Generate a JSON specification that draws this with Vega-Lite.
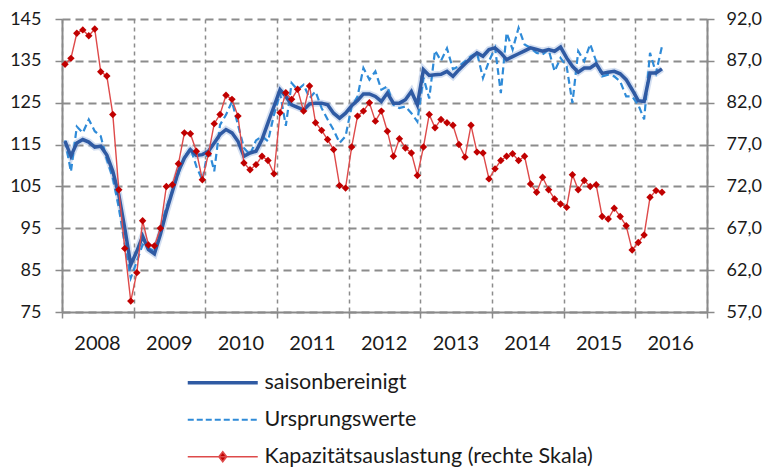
{
  "$schema": "https://vega.github.io/schema/vega-lite/v6.json",
  "width": 645,
  "height": 293,
  "autosize": {"type": "none"},
  "padding": {"left": 62, "top": 19, "right": 66, "bottom": 155},
  "background": "white",
  "config": {
    "view": {"stroke": null},
    "font": "Lato",
    "axis": {
      "labelFont": "Lato",
      "labelFontSize": 18,
      "labelColor": "#1a1a1a",
      "domainColor": "#8a8a8a",
      "domainWidth": 2,
      "tickColor": "#8a8a8a",
      "tickWidth": 1.5,
      "gridColor": "#8c8c8c",
      "title": null
    }
  },
  "data": {
    "values": [
      {"m": "2008-01", "sa": 115.8, "u": 116.0, "k": 86.6},
      {"m": "2008-02", "sa": 112.2, "u": 108.5, "k": 87.3},
      {"m": "2008-03", "sa": 115.4, "u": 119.3, "k": 90.3},
      {"m": "2008-04", "sa": 116.2, "u": 117.8, "k": 90.7},
      {"m": "2008-05", "sa": 115.6, "u": 121.0, "k": 90.0},
      {"m": "2008-06", "sa": 114.4, "u": 118.2, "k": 90.8},
      {"m": "2008-07", "sa": 114.6, "u": 117.0, "k": 85.7},
      {"m": "2008-08", "sa": 112.5, "u": 111.4, "k": 85.2},
      {"m": "2008-09", "sa": 108.6, "u": 107.0, "k": 80.6},
      {"m": "2008-10", "sa": 103.0, "u": 100.0, "k": 71.6},
      {"m": "2008-11", "sa": 95.0, "u": 91.1, "k": 64.6},
      {"m": "2008-12", "sa": 86.3, "u": 83.1, "k": 58.3},
      {"m": "2009-01", "sa": 89.5, "u": 87.1, "k": 61.7},
      {"m": "2009-02", "sa": 93.1, "u": 91.1, "k": 67.9},
      {"m": "2009-03", "sa": 89.9, "u": 90.3, "k": 65.0},
      {"m": "2009-04", "sa": 88.9, "u": 89.5, "k": 64.9},
      {"m": "2009-05", "sa": 93.5, "u": 95.0, "k": 67.0},
      {"m": "2009-06", "sa": 99.0, "u": 100.0, "k": 72.0},
      {"m": "2009-07", "sa": 103.8, "u": 104.0, "k": 72.2},
      {"m": "2009-08", "sa": 108.6, "u": 108.0, "k": 74.7},
      {"m": "2009-09", "sa": 111.8, "u": 112.0, "k": 78.4},
      {"m": "2009-10", "sa": 113.8, "u": 114.2, "k": 78.3},
      {"m": "2009-11", "sa": 112.4, "u": 109.8, "k": 76.2},
      {"m": "2009-12", "sa": 112.6, "u": 106.5, "k": 72.8},
      {"m": "2010-01", "sa": 113.4, "u": 114.2, "k": 75.9},
      {"m": "2010-02", "sa": 115.4, "u": 108.6, "k": 79.5},
      {"m": "2010-03", "sa": 117.4, "u": 119.7, "k": 80.6},
      {"m": "2010-04", "sa": 118.6, "u": 122.1, "k": 82.9},
      {"m": "2010-05", "sa": 117.8, "u": 125.3, "k": 82.4},
      {"m": "2010-06", "sa": 115.8, "u": 119.7, "k": 80.4},
      {"m": "2010-07", "sa": 112.2, "u": 114.2, "k": 74.8},
      {"m": "2010-08", "sa": 113.0, "u": 112.6, "k": 74.0},
      {"m": "2010-09", "sa": 113.4, "u": 116.0, "k": 74.6},
      {"m": "2010-10", "sa": 116.2, "u": 117.0, "k": 75.6},
      {"m": "2010-11", "sa": 120.2, "u": 115.8, "k": 75.1},
      {"m": "2010-12", "sa": 124.1, "u": 122.1, "k": 73.5},
      {"m": "2011-01", "sa": 128.1, "u": 127.3, "k": 80.8},
      {"m": "2011-02", "sa": 126.5, "u": 119.5, "k": 83.2},
      {"m": "2011-03", "sa": 124.5, "u": 129.7, "k": 82.4},
      {"m": "2011-04", "sa": 123.9, "u": 128.1, "k": 83.6},
      {"m": "2011-05", "sa": 123.3, "u": 129.3, "k": 81.0},
      {"m": "2011-06", "sa": 124.7, "u": 126.1, "k": 84.0},
      {"m": "2011-07", "sa": 124.9, "u": 127.7, "k": 79.6},
      {"m": "2011-08", "sa": 124.9, "u": 123.7, "k": 78.7},
      {"m": "2011-09", "sa": 124.5, "u": 121.0, "k": 77.6},
      {"m": "2011-10", "sa": 122.5, "u": 118.5, "k": 76.4},
      {"m": "2011-11", "sa": 121.3, "u": 115.4, "k": 72.1},
      {"m": "2011-12", "sa": 122.5, "u": 117.0, "k": 71.8},
      {"m": "2012-01", "sa": 124.3, "u": 124.1, "k": 76.7},
      {"m": "2012-02", "sa": 125.5, "u": 126.5, "k": 80.4},
      {"m": "2012-03", "sa": 127.1, "u": 133.3, "k": 81.0},
      {"m": "2012-04", "sa": 127.1, "u": 130.5, "k": 82.0},
      {"m": "2012-05", "sa": 126.5, "u": 132.5, "k": 79.8},
      {"m": "2012-06", "sa": 125.3, "u": 128.1, "k": 81.0},
      {"m": "2012-07", "sa": 127.3, "u": 128.9, "k": 78.6},
      {"m": "2012-08", "sa": 124.9, "u": 124.5, "k": 75.6},
      {"m": "2012-09", "sa": 124.9, "u": 123.7, "k": 77.7},
      {"m": "2012-10", "sa": 125.7, "u": 124.1, "k": 76.6},
      {"m": "2012-11", "sa": 127.7, "u": 122.5, "k": 76.0},
      {"m": "2012-12", "sa": 124.5, "u": 120.5, "k": 73.3},
      {"m": "2013-01", "sa": 132.9, "u": 131.0, "k": 76.7},
      {"m": "2013-02", "sa": 131.5, "u": 126.0, "k": 80.6},
      {"m": "2013-03", "sa": 131.7, "u": 137.5, "k": 79.0},
      {"m": "2013-04", "sa": 131.8, "u": 135.0, "k": 80.0},
      {"m": "2013-05", "sa": 132.5, "u": 138.0, "k": 79.6},
      {"m": "2013-06", "sa": 131.3, "u": 133.0, "k": 79.3},
      {"m": "2013-07", "sa": 132.9, "u": 133.7, "k": 77.0},
      {"m": "2013-08", "sa": 134.3, "u": 134.9, "k": 75.5},
      {"m": "2013-09", "sa": 135.7, "u": 136.1, "k": 79.3},
      {"m": "2013-10", "sa": 136.9, "u": 136.9, "k": 76.1},
      {"m": "2013-11", "sa": 136.1, "u": 130.9, "k": 76.0},
      {"m": "2013-12", "sa": 137.7, "u": 134.9, "k": 72.9},
      {"m": "2014-01", "sa": 138.1, "u": 138.1, "k": 74.1},
      {"m": "2014-02", "sa": 136.9, "u": 127.3, "k": 75.1},
      {"m": "2014-03", "sa": 135.3, "u": 141.7, "k": 75.6},
      {"m": "2014-04", "sa": 136.0, "u": 137.7, "k": 75.9},
      {"m": "2014-05", "sa": 136.7, "u": 142.9, "k": 75.1},
      {"m": "2014-06", "sa": 137.4, "u": 138.9, "k": 75.6},
      {"m": "2014-07", "sa": 138.1, "u": 138.1, "k": 72.3},
      {"m": "2014-08", "sa": 137.7, "u": 136.9, "k": 71.3},
      {"m": "2014-09", "sa": 137.3, "u": 136.5, "k": 73.1},
      {"m": "2014-10", "sa": 137.7, "u": 137.7, "k": 71.6},
      {"m": "2014-11", "sa": 137.3, "u": 132.5, "k": 70.5},
      {"m": "2014-12", "sa": 138.3, "u": 135.7, "k": 69.9},
      {"m": "2015-01", "sa": 135.7, "u": 133.7, "k": 69.5},
      {"m": "2015-02", "sa": 133.7, "u": 124.9, "k": 73.4},
      {"m": "2015-03", "sa": 132.3, "u": 137.3, "k": 71.6},
      {"m": "2015-04", "sa": 133.3, "u": 134.9, "k": 72.7},
      {"m": "2015-05", "sa": 133.3, "u": 139.0, "k": 72.0},
      {"m": "2015-06", "sa": 134.3, "u": 134.9, "k": 72.2},
      {"m": "2015-07", "sa": 132.0, "u": 131.3, "k": 68.4},
      {"m": "2015-08", "sa": 132.3, "u": 131.7, "k": 68.1},
      {"m": "2015-09", "sa": 132.5, "u": 131.3, "k": 69.4},
      {"m": "2015-10", "sa": 131.9, "u": 130.1, "k": 68.4},
      {"m": "2015-11", "sa": 130.5, "u": 126.5, "k": 67.3},
      {"m": "2015-12", "sa": 128.1, "u": 126.5, "k": 64.4},
      {"m": "2016-01", "sa": 125.5, "u": 124.5, "k": 65.3},
      {"m": "2016-02", "sa": 125.3, "u": 121.0, "k": 66.2},
      {"m": "2016-03", "sa": 132.1, "u": 136.9, "k": 70.7},
      {"m": "2016-04", "sa": 132.1, "u": 132.1, "k": 71.5},
      {"m": "2016-05", "sa": 133.1, "u": 138.5, "k": 71.3}
    ]
  },
  "encoding": {
    "x": {
      "field": "m",
      "type": "temporal",
      "timeUnit": "utcyearmonth",
      "bandPosition": 0.5,
      "scale": {
        "type": "utc",
        "domain": [
          {"year": 2008, "month": 1, "date": 1, "utc": true},
          {"year": 2017, "month": 1, "date": 1, "utc": true}
        ]
      },
      "axis": {
        "values": [
          {"year": 2008, "month": 1, "date": 1, "utc": true},
          {"year": 2009, "month": 1, "date": 1, "utc": true},
          {"year": 2010, "month": 1, "date": 1, "utc": true},
          {"year": 2011, "month": 1, "date": 1, "utc": true},
          {"year": 2012, "month": 1, "date": 1, "utc": true},
          {"year": 2013, "month": 1, "date": 1, "utc": true},
          {"year": 2014, "month": 1, "date": 1, "utc": true},
          {"year": 2015, "month": 1, "date": 1, "utc": true},
          {"year": 2016, "month": 1, "date": 1, "utc": true},
          {"year": 2017, "month": 1, "date": 1, "utc": true}
        ],
        "labelExpr": "utcyear(datum.value) < 2017 ? utcFormat(datum.value, '%Y') : ''",
        "labelOffset": 35,
        "labelFlush": false,
        "labelOverlap": false,
        "labelAlign": "center",
        "labelFontSize": 20,
        "labelPadding": 15,
        "tickSize": 6,
        "grid": true,
        "gridDash": [4, 4],
        "gridWidth": 1.5
      }
    },
    "color": {
      "datum": "saisonbereinigt",
      "type": "nominal",
      "scale": {
        "domain": ["saisonbereinigt", "Ursprungswerte", "Kapazitätsauslastung (rechte Skala)"],
        "range": ["#2f5aa3", "#2f8bd8", "#de4a4a"]
      },
      "legend": {
        "orient": "none",
        "legendX": 150,
        "legendY": 353,
        "title": null,
        "padding": 0,
        "labelFont": "Lato",
        "labelFontSize": 21.5,
        "labelColor": "#1a1a1a",
        "labelLimit": 0,
        "labelOffset": 31,
        "rowPadding": 14,
        "symbolSize": 1225,
        "symbolStrokeWidth": 2,
        "encode": {
          "symbols": {
            "update": {
              "shape": {"signal": "datum.value === 'Kapazitätsauslastung (rechte Skala)' ? 'M-2,0H2M0,-0.28L0.22,0L0,0.28L-0.22,0Z' : 'M-2,0H2'"},
              "strokeDash": {"signal": "datum.value === 'Ursprungswerte' ? [6, 3] : null"},
              "strokeWidth": {"signal": "datum.value === 'saisonbereinigt' ? 3.5 : (datum.value === 'Ursprungswerte' ? 2.2 : 1.6)"},
              "fill": {"signal": "datum.value === 'Kapazitätsauslastung (rechte Skala)' ? '#c00000' : 'transparent'"},
              "opacity": {"value": 1}
            }
          }
        }
      }
    }
  },
  "layer": [
    {
      "layer": [
        {
          "mark": {"type": "line", "color": "#9fb7e0", "strokeWidth": 7, "opacity": 0.45},
          "encoding": {
            "color": null,
            "y": {
              "field": "sa", "type": "quantitative",
              "scale": {"domain": [75, 145], "nice": false, "zero": false},
              "axis": {"values": [75, 85, 95, 105, 115, 125, 135, 145], "grid": true, "gridDash": [8, 5], "gridWidth": 1.8, "tickSize": 7, "labelPadding": 14}
            }
          }
        },
        {
          "mark": {"type": "line", "strokeWidth": 2.2, "strokeDash": [7, 4]},
          "encoding": {
            "y": {
              "field": "u", "type": "quantitative",
              "scale": {"domain": [75, 145], "nice": false, "zero": false},
              "axis": {"values": [75, 85, 95, 105, 115, 125, 135, 145], "grid": true, "gridDash": [8, 5], "gridWidth": 1.8, "tickSize": 7, "labelPadding": 14}
            },
            "color": {"datum": "Ursprungswerte", "type": "nominal"}
          }
        },
        {
          "mark": {"type": "line", "strokeWidth": 3.5},
          "encoding": {
            "y": {
              "field": "sa", "type": "quantitative",
              "scale": {"domain": [75, 145], "nice": false, "zero": false},
              "axis": {"values": [75, 85, 95, 105, 115, 125, 135, 145], "grid": true, "gridDash": [8, 5], "gridWidth": 1.8, "tickSize": 7, "labelPadding": 14}
            }
          }
        }
      ]
    },
    {
      "layer": [
        {
          "mark": {"type": "line", "strokeWidth": 1.4},
          "encoding": {
            "y": {
              "field": "k", "type": "quantitative",
              "scale": {"domain": [57, 92], "nice": false, "zero": false},
              "axis": {"orient": "right", "values": [57, 62, 67, 72, 77, 82, 87, 92], "grid": false, "tickSize": 7, "labelPadding": 12, "labelExpr": "replace(format(datum.value, '.1f'), '.', ',')"}
            },
            "color": {"datum": "Kapazitätsauslastung (rechte Skala)", "type": "nominal"}
          }
        },
        {
          "mark": {"type": "point", "shape": "diamond", "filled": true, "color": "#c00000", "size": 55, "opacity": 1},
          "encoding": {
            "color": null,
            "y": {
              "field": "k", "type": "quantitative",
              "scale": {"domain": [57, 92], "nice": false, "zero": false},
              "axis": {"orient": "right", "values": [57, 62, 67, 72, 77, 82, 87, 92], "grid": false, "tickSize": 7, "labelPadding": 12, "labelExpr": "replace(format(datum.value, '.1f'), '.', ',')"}
            }
          }
        }
      ]
    }
  ],
  "resolve": {"scale": {"y": "independent"}}
}
